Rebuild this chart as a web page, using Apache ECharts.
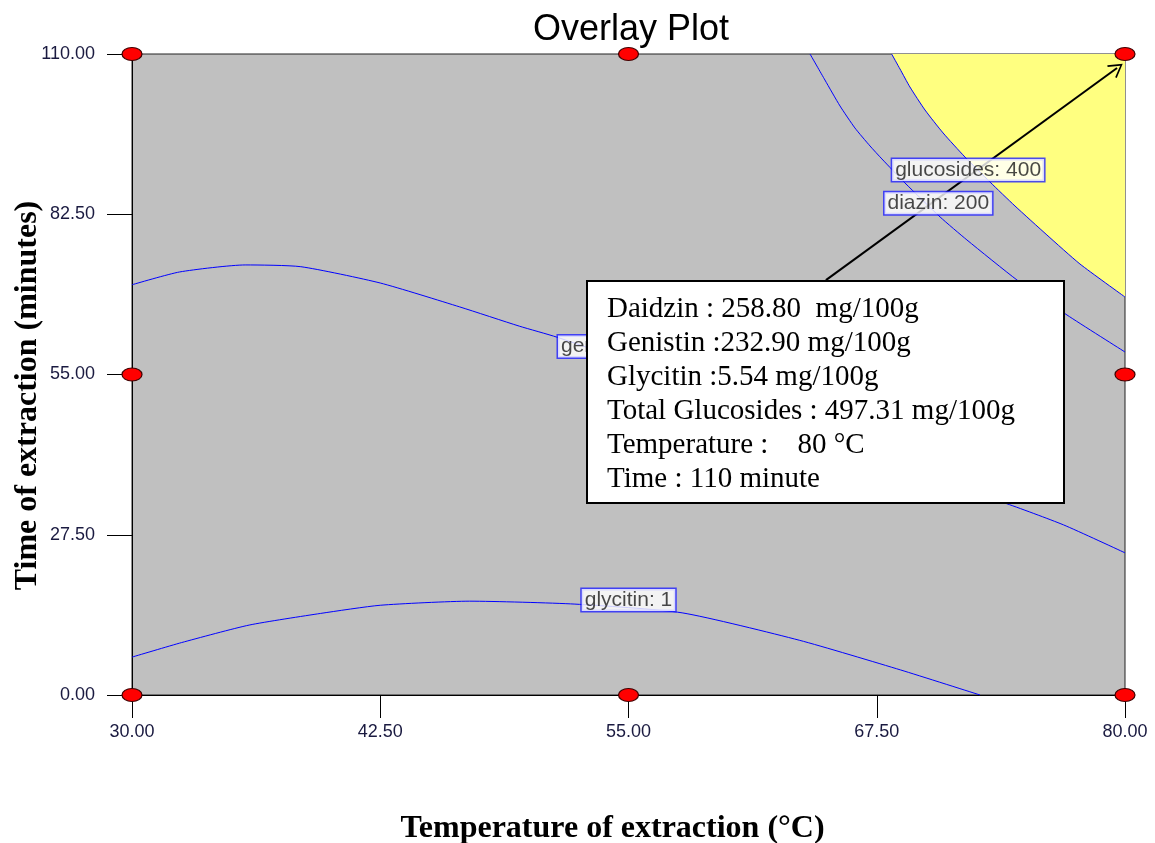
<!DOCTYPE html>
<html>
<head>
<meta charset="utf-8">
<script src="https://cdn.jsdelivr.net/npm/echarts@6/dist/echarts.min.js"></script>
<style>html,body{margin:0;padding:0;background:#fff}#c{width:1155px;height:843px}</style>
</head>
<body>
<div id="c"></div>
<script>
// ---- data ----
var xTicks = [30, 42.5, 55, 67.5, 80];
var yTicks = [0, 27.5, 55, 82.5, 110];

var genistinCurve = [[30,70.4],[32.4,72.6],[35.7,73.8],[38.5,73.5],[42.5,70.7],[46.5,66.6],[49.5,63.3],[51.4,61.4],[56.1,55.8],[63.6,45.5],[68.7,38.6],[73.9,33.0],[76.9,29.2],[80,24.4]];
var diazinCurve = [[64.14,110],[64.89,105.54],[65.65,101.08],[66.40,97.31],[67.16,94.22],[67.76,91.99],[68.92,87.87],[70.69,82.03],[72.04,78.09],[74.56,71.22],[77.08,65.21],[80,58.86]];
var glucosidesCurve = [[68.25,110],[68.67,107.43],[69.17,104.34],[69.93,100.39],[70.84,96.45],[71.94,92.33],[73.20,88.04],[74.46,83.92],[76.07,78.94],[77.73,73.97],[80,68.3]];
var glycitinCurve = [[30,6.5],[32.5,9.0],[35.9,12.0],[39.5,14.0],[42.5,15.4],[47.0,16.1],[52.3,15.6],[57.7,14.1],[63.6,9.4],[68.7,4.3],[72.7,0]];

var designPoints = [[30,0],[55,0],[80,0],[30,55],[80,55],[30,110],[55,110],[80,110]];

var contourLabels = [
  {name:'glucosides: 400', at:[72.1,90.1], align:'center'},
  {name:'diazin: 200', at:[70.6,84.4], align:'center'},
  {name:'genistin', at:[51.45,59.8], align:'left'},
  {name:'glycitin: 1', at:[55.0,16.3], align:'center'}
];

var arrowFrom = [64.94, 71.2];
var arrowTo = [79.6, 107.6];

var boxLines = [
  'Daidzin : 258.80  mg/100g',
  'Genistin :232.90 mg/100g',
  'Glycitin :5.54 mg/100g',
  'Total Glucosides : 497.31 mg/100g',
  'Temperature :    80 \u00B0C',
  'Time : 110 minute'
];

var titleText = 'Overlay Plot';
var xName = 'Temperature of extraction (\u00B0C)';
var yName = 'Time of extraction (minutes)';

// ---- chart ----
var chart = echarts.init(document.getElementById('c'), null, {renderer:'canvas'});
var lineStyle = {color:'#0000ff', width:1};
function contour(d){
  return {type:'line', data:d, showSymbol:false, symbol:'none', smooth:0.2, lineStyle:lineStyle, z:3, silent:true, clip:true};
}
var labelStyle = {
  show:true, backgroundColor:'#ffffff', borderColor:'#1f1fff', borderWidth:1.5,
  padding:[1,3,0,3], fontFamily:'Arial, Liberation Sans, sans-serif', fontSize:21, color:'#1a1a1a'
};
var tickFont = {fontFamily:'Arial, Liberation Sans, sans-serif', fontSize:18, color:'#1a1a40'};

var option = {
  animation:false,
  backgroundColor:'#ffffff',
  title:{text:titleText, left:626, textAlign:'center', top:7,
    textStyle:{fontFamily:'Arial, Liberation Sans, sans-serif', fontSize:36, fontWeight:'normal', color:'#000'}},
  grid:{left:132, right:30, top:54, bottom:148, containLabel:false, outerBoundsMode:'none',
    show:true, backgroundColor:'#c0c0c0', borderColor:'#222', borderWidth:1},
  xAxis:{type:'value', min:30, max:80,
    name:xName, nameLocation:'middle', nameGap:118, nameMoveOverlap:false,
    nameTextStyle:{fontFamily:'Liberation Serif, Times New Roman, serif', fontWeight:'bold', fontSize:32, color:'#000', padding:[0,32,0,0]},
    axisLine:{show:true, onZero:false, lineStyle:{color:'#000', width:1}},
    axisTick:{show:true, length:23, customValues:xTicks, lineStyle:{color:'#000'}},
    axisLabel:Object.assign({customValues:xTicks, margin:28, formatter:function(v){return v.toFixed(2);}}, tickFont),
    splitLine:{show:false}},
  yAxis:{type:'value', min:0, max:110, interval:27.5,
    name:yName, nameLocation:'middle', nameGap:88, nameMoveOverlap:false,
    nameTextStyle:{fontFamily:'Liberation Serif, Times New Roman, serif', fontWeight:'bold', fontSize:32, color:'#000', padding:[0,42,0,0]},
    axisLine:{show:true, onZero:false, lineStyle:{color:'#000', width:1}},
    axisTick:{show:true, length:25, lineStyle:{color:'#000'}},
    axisLabel:Object.assign({margin:37, formatter:function(v){return v.toFixed(2);}}, tickFont),
    splitLine:{show:false}},
  series:[
    {type:'line', data:glucosidesCurve, showSymbol:false, symbol:'none', smooth:0.2,
      lineStyle:lineStyle, areaStyle:{origin:'end', color:'#ffff80', opacity:1}, z:2, silent:true},
    contour(diazinCurve),
    contour(genistinCurve),
    contour(glycitinCurve),
    {type:'scatter', symbolSize:0, z:5, silent:true,
      data:contourLabels.map(function(l){
        return {name:l.name, value:l.at,
          label: l.align==='left' ? {position:'right', distance:0} : {position:'inside'}};
      }),
      label:Object.assign({formatter:function(p){return p.name;}}, labelStyle)},
    {type:'scatter', data:designPoints, symbol:'circle', symbolSize:[20,13], clip:false, z:6, silent:true,
      itemStyle:{color:'#ff0000', borderColor:'#400000', borderWidth:1, opacity:1},
      markLine:{silent:true, symbol:['none','path://M10,0 L20,17 L18,18 L10,4 L2,18 L0,17 Z'], symbolSize:[16,14],
        lineStyle:{color:'#000', width:2, type:'solid'}, label:{show:false},
        data:[[{coord:arrowFrom},{coord:arrowTo}]]}}
  ],
  graphic:[
    {type:'rect', left:586, top:280, z:100, zlevel:2, silent:true,
      shape:{width:477, height:222}, style:{fill:'#ffffff', stroke:'#000', lineWidth:2}},
    {type:'text', left:607, top:292, z:101, zlevel:2, silent:true,
      style:{text:boxLines.join('\n'), font:'29px "Liberation Serif", "Times New Roman", serif', lineHeight:34, fill:'#000'}}
  ]
};
chart.setOption(option);
</script>
</body>
</html>
